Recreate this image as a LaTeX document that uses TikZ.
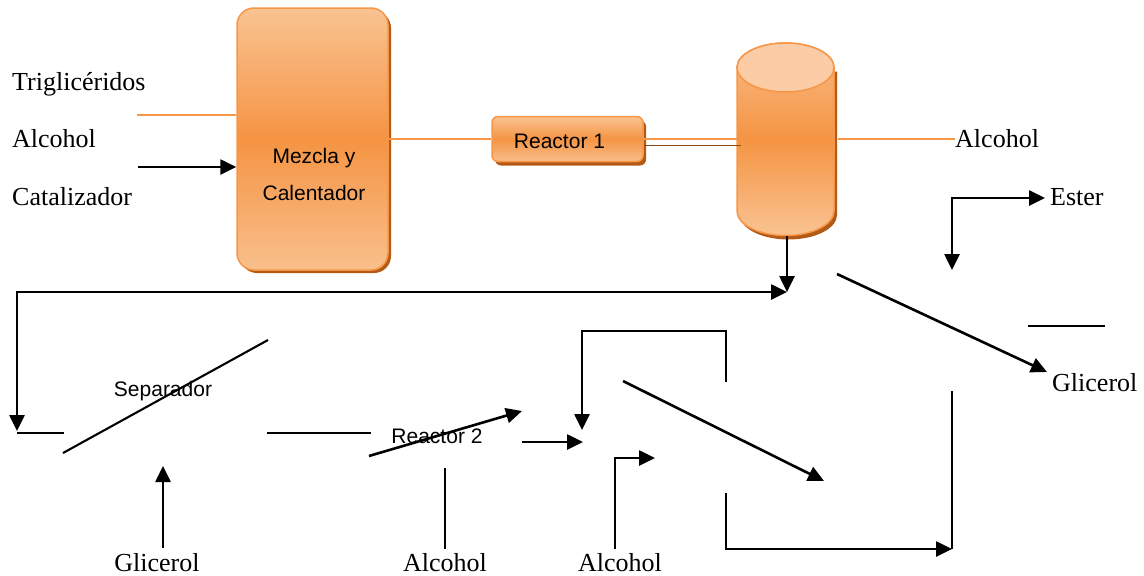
\documentclass[tikz,border=0pt]{standalone}
\usepackage{fontspec}
\setmainfont{Liberation Serif}
\setsansfont{Liberation Sans}
\usetikzlibrary{arrows.meta}

\definecolor{orangeline}{HTML}{F79646}
\definecolor{unitlight}{HTML}{F9C392}
\definecolor{unitmid}{HTML}{F59443}
\definecolor{unitshade}{HTML}{B35A17}
\definecolor{thinbrown}{HTML}{8A4A16}
\definecolor{captop}{HTML}{FBCCA5}

\tikzset{
  unit/.style={draw=orangeline, line width=1.5pt, top color=unitlight,
    bottom color=unitlight!92!unitmid, middle color=unitmid, inner sep=0pt},
  unitback/.style={fill=unitshade, draw=none, inner sep=0pt},
  stream/.style={draw=orangeline, line width=2.4pt},
  flow/.style={line width=2.6pt, -{Triangle[length=16pt,width=15pt]}},
  twoway/.style={line width=2.6pt, {Triangle[length=16pt,width=15pt]}-{Triangle[length=16pt,width=15pt]}},
  pipe/.style={line width=2.1pt},
  lbl/.style={font=\fontsize{26}{30}\selectfont, inner sep=0pt},
  tag/.style={font=\sffamily\fontsize{21}{25}\selectfont, inner sep=0pt},
}

\begin{document}
\begin{tikzpicture}[x=1pt,y=-1pt]
\useasboundingbox (0,0) rectangle (1144,576);

% --- mixing / heating unit ---
\node[unitback, rounded corners=17pt, minimum width=151pt, minimum height=262pt] (mixback) at (315.5,142) {};
\node[unit, rounded corners=17pt, minimum width=151pt, minimum height=262pt] (mix) at (312.5,139) {};
\node[tag, anchor=base] (mixtxt1) at (314,163) {Mezcla y};
\node[tag, anchor=base] (mixtxt2) at (314,200) {Calentador};

% --- first reactor ---
\node[unitback, rounded corners=6pt, minimum width=151pt, minimum height=45pt] (r1back) at (570.5,143) {};
\node[unit, rounded corners=6pt, minimum width=151pt, minimum height=45pt] (r1) at (567.5,139) {};
\node[tag, anchor=base] (r1txt) at (559.5,148) {Reactor 1};

% --- settling column (cylinder) ---
\path[fill=unitshade] (740,71.5) -- (740,215) arc[start angle=180,end angle=0,x radius=48.5,y radius=24.5] -- (837,71.5) -- cycle;
\path[draw=orangeline, line width=1.5pt, top color=unitlight!85!unitmid, bottom color=unitlight, middle color=unitmid]
  (737,67.5) -- (737,211) arc[start angle=180,end angle=0,x radius=48.5,y radius=24.5]
  -- (834,67.5) arc[start angle=0,end angle=-180,x radius=48.5,y radius=24.5] -- cycle;
\draw[orangeline, line width=1.5pt, fill=captop] (785.5,67.5) ellipse[x radius=48.5, y radius=24.5];
\coordinate (colwest) at (737,139);
\coordinate (colwestlow) at (741,145);
\coordinate (coleast) at (838,139);
\coordinate (colbottom) at (787,236);

% --- feed labels and lines ---
\node[lbl, anchor=base west] (tg) at (12,90) {Triglicéridos};
\node[lbl, anchor=base west] (alc1) at (12,147) {Alcohol};
\node[lbl, anchor=base west] (cat) at (12,205) {Catalizador};
\coordinate (tgstart) at (137,115);
\coordinate (alcstart) at (138,167);
\draw[stream] (tgstart) -- (tgstart -| mix.west);
\draw[flow] (alcstart) -- (alcstart -| mix.west);

\draw[stream] (mix.east) -- (r1.west);
\draw[stream] (r1.east) -- (colwest);
\draw[thinbrown, line width=1pt] (colwestlow -| r1.east) -- (colwestlow);

\node[lbl, anchor=base west] (alc2) at (955,147) {Alcohol};
\draw[stream] (coleast) -- (alc2.west |- coleast);

% --- recycle to separator ---
\coordinate (junction) at (787,292);
\coordinate (sepin) at (17,431);
\draw[flow] (colbottom) -- (junction);
\draw[twoway] (sepin) |- (junction);

% --- separator ---
\coordinate (sepa) at (17,433);
\coordinate (sepb) at (64,433);
\coordinate (sepdiag1) at (63,453);
\coordinate (sepdiag2) at (268,340);
\coordinate (sepc) at (267,433);
\coordinate (sepd) at (371,433);
\draw[pipe] (sepa) -- (sepb);
\draw[pipe] (sepdiag1) -- (sepdiag2);
\draw[pipe] (sepc) -- (sepd);
\node[tag, anchor=base] (septxt) at (163,396) {Separador};

\node[lbl, anchor=base] (gli1) at (157,571) {Glicerol};
\coordinate (gliup) at (163,466);
\draw[flow] (163,548) -- (gliup);

% --- second reactor ---
\coordinate (r2a) at (369,456);
\coordinate (r2b) at (522,411);
\draw[flow] (r2a) -- (r2b);
\node[tag, anchor=base] (r2txt) at (437,443) {Reactor 2};

\node[lbl, anchor=base] (alc3) at (445,571) {Alcohol};
\draw[pipe] (445,468) -- (alc3.north |- 0,549);

\coordinate (mixin) at (583,442);
\draw[flow] (522,442) -- (mixin);

\coordinate (loopa) at (726,382);
\coordinate (loopb) at (582,430);
\draw[flow] (loopa) -- (726,331) -- (582,331) -- (loopb);

\node[lbl, anchor=base] (alc4) at (620,571) {Alcohol};
\coordinate (alcin) at (655,458);
\draw[flow] (615,549) |- (alcin);

\coordinate (diaga) at (623,381);
\coordinate (diagb) at (824,481);
\draw[flow] (diaga) -- (diagb);

\coordinate (ua) at (726,493);
\coordinate (ub) at (952,549);
\draw[flow] (ua) |- (ub);
\draw[pipe] (952,391) -- (ub);

% --- ester / glycerol outlets ---
\node[lbl, anchor=base west] (gli2) at (1052,391) {Glicerol};
\coordinate (glia) at (837,274);
\coordinate (glib) at (1047,372);
\draw[flow] (glia) -- (glib);

\node[lbl, anchor=base west] (est) at (1050,205) {Ester};
\coordinate (esta) at (952,270);
\coordinate (estb) at (1045,198);
\draw[twoway] (esta) |- (estb);

\coordinate (sha) at (1028,326);
\coordinate (shb) at (1105,326);
\draw[pipe] (sha) -- (shb);

\end{tikzpicture}
\end{document}
